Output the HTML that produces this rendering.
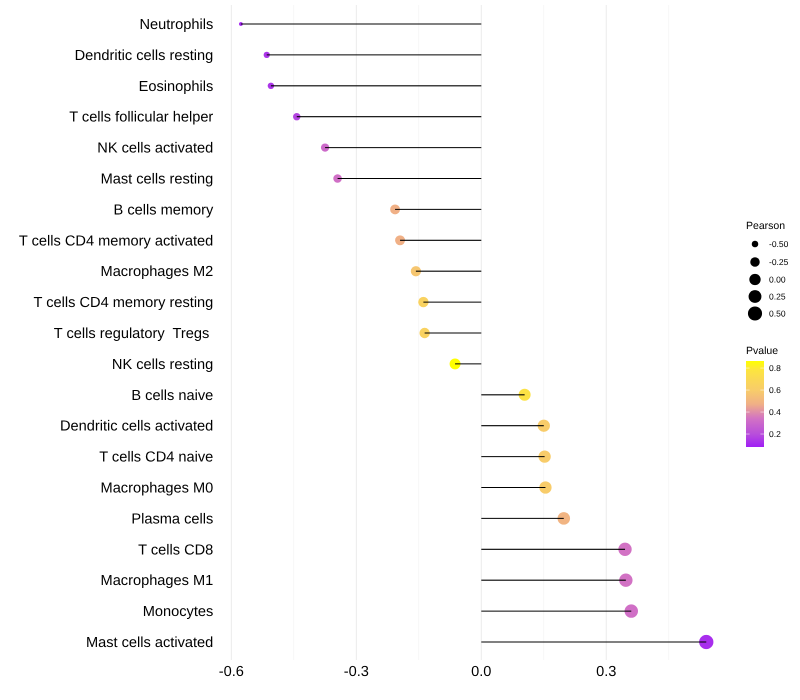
<!DOCTYPE html>
<html>
<head>
<meta charset="utf-8">
<title>Lollipop chart</title>
<style>
html,body{margin:0;padding:0;background:#fff;width:800px;height:700px;overflow:hidden}
svg{display:block;font-family:"Liberation Sans",sans-serif;text-rendering:geometricPrecision}
text{white-space:pre}
</style>
</head>
<body>
<svg id="chart" width="800" height="700" viewBox="0 0 800 700" xmlns="http://www.w3.org/2000/svg">
<defs>
<linearGradient id="pgrad" x1="0" y1="1" x2="0" y2="0">
<stop offset="0" stop-color="#a01ff5"/>
<stop offset="0.15" stop-color="#b84edb"/>
<stop offset="0.33" stop-color="#d272c4"/>
<stop offset="0.5" stop-color="#f0b086"/>
<stop offset="0.66" stop-color="#f8cc6a"/>
<stop offset="0.78" stop-color="#fad856"/>
<stop offset="0.9" stop-color="#fde63e"/>
<stop offset="1" stop-color="#ffff00"/>
</linearGradient>
</defs>
<g id="grid"></g>
<g id="marks"></g>
<g id="ylabels"></g>
<g id="xlabels"></g>
<g id="legend-size">
<text x="746" y="229" font-size="10.5" fill="#000">Pearson</text>
</g>
<g id="legend-color">
<text x="746" y="354" font-size="10.5" fill="#000">Pvalue</text>
<rect x="746" y="361" width="18" height="86" fill="url(#pgrad)"/>
</g>
</svg>
<script>
const categories = ["Neutrophils","Dendritic cells resting","Eosinophils","T cells follicular helper","NK cells activated","Mast cells resting","B cells memory","T cells CD4 memory activated","Macrophages M2","T cells CD4 memory resting","T cells regulatory  Tregs ","NK cells resting","B cells naive","Dendritic cells activated","T cells CD4 naive","Macrophages M0","Plasma cells","T cells CD8","Macrophages M1","Monocytes","Mast cells activated"];
const pearson = [-0.577,-0.515,-0.505,-0.443,-0.375,-0.345,-0.207,-0.195,-0.157,-0.139,-0.136,-0.063,0.104,0.15,0.152,0.154,0.198,0.345,0.347,0.36,0.54];
const pvalue = [0.095,0.137,0.137,0.176,0.31,0.33,0.473,0.473,0.57,0.645,0.645,0.864,0.76,0.6,0.6,0.6,0.49,0.34,0.34,0.33,0.12];
const xTicks = [-0.6,-0.3,0,0.3];
const xMinorTicks = [-0.45,-0.15,0.15,0.45];
const xTickLabels = ["-0.6","-0.3","0.0","0.3"];
const sizeLegendValues = [-0.5,-0.25,0,0.25,0.5];
const sizeLegendLabels = ["-0.50","-0.25","0.00","0.25","0.50"];
const colorLegendValues = [0.2,0.4,0.6,0.8];
const colorLegendLabels = ["0.2","0.4","0.6","0.8"];

const NS = "http://www.w3.org/2000/svg";
const xScale = v => 481.3 + v * 416.6;
const yScale = i => 24 + i * 30.9;
const minR = -0.577, maxR = 0.54;
const radius = v => {
  const t = Math.max(0, (v - minR) / (maxR - minR));
  return 1.9 + 5.25 * Math.sqrt(t);
};
const colorStops = [[0,[160,31,245]],[0.15,[184,78,219]],[0.33,[210,114,196]],[0.5,[240,176,134]],[0.66,[248,204,106]],[0.78,[250,216,86]],[0.9,[253,230,62]],[1,[255,255,0]]];
const pMin = 0.082, pMax = 0.864;
const pColor = p => {
  const t = Math.min(1, Math.max(0, (p - pMin) / (pMax - pMin)));
  for (let i = 1; i < colorStops.length; i++) {
    if (t <= colorStops[i][0]) {
      const a = colorStops[i-1], b = colorStops[i];
      const f = (t - a[0]) / (b[0] - a[0]);
      const c = a[1].map((x, k) => Math.round(x + (b[1][k] - x) * f));
      return "rgb(" + c.join(",") + ")";
    }
  }
  return "rgb(255,255,0)";
};
const pY = p => 361 + 86 * (pMax - p) / (pMax - pMin);
function mk(tag, attrs, parent) {
  const el = document.createElementNS(NS, tag);
  for (const k in attrs) el.setAttribute(k, attrs[k]);
  parent.appendChild(el);
  return el;
}
const grid = document.getElementById("grid");
const marks = document.getElementById("marks");
const ylabels = document.getElementById("ylabels");
const xlabels = document.getElementById("xlabels");
const legendSize = document.getElementById("legend-size");
const legendColor = document.getElementById("legend-color");

xMinorTicks.forEach(v => {
  const l = mk("line", {x1:xScale(v), x2:xScale(v), y1:5, y2:660, stroke:"#f2f2f2", "stroke-width":0.6}, grid);
  
  
});
xTicks.forEach((v, i) => {
  const l = mk("line", {x1:xScale(v), x2:xScale(v), y1:5, y2:660, stroke:"#ebebeb", "stroke-width":1}, grid);
  
  
  const t = mk("text", {x:xScale(v), y:676.2, "text-anchor":"middle", "font-size":14.6, fill:"#000"}, xlabels);
  
  
  t.textContent = xTickLabels[i];
});
categories.forEach((c, i) => {
  const y = yScale(i);
  const dot = mk("circle", {cx:xScale(pearson[i]), cy:y, r:radius(pearson[i]), fill:pColor(pvalue[i])}, marks);
  
  
  const ln = mk("line", {x1:xScale(0), x2:xScale(pearson[i]), y1:y, y2:y, stroke:"#000", "stroke-width":1.07}, marks);
  
  
  const t = mk("text", {x:213.3, y:y + 5, "text-anchor":"end", "font-size":14.6, fill:"#000"}, ylabels);
  
  
  t.textContent = c;
});
const sizeLegendY = [244, 262, 279.5, 296.5, 313.5];
sizeLegendValues.forEach((v, i) => {
  const d = mk("circle", {cx:755, cy:sizeLegendY[i], r:radius(v), fill:"#000"}, legendSize);
  
  
  const t = mk("text", {x:769, y:sizeLegendY[i] + 3, "font-size":8.5, fill:"#000"}, legendSize);
  
  
  t.textContent = sizeLegendLabels[i];
});
colorLegendValues.forEach((v, i) => {
  const y = pY(v);
  [[746,749.6],[760.4,764]].forEach(s => {
    const k = mk("line", {x1:s[0], x2:s[1], y1:y, y2:y, stroke:"#fff", "stroke-width":0.5}, legendColor);
    
    
  });
  const t = mk("text", {x:769, y:y + 3, "font-size":8.5, fill:"#000"}, legendColor);
  
  
  t.textContent = colorLegendLabels[i];
});
</script>
</body>
</html>
